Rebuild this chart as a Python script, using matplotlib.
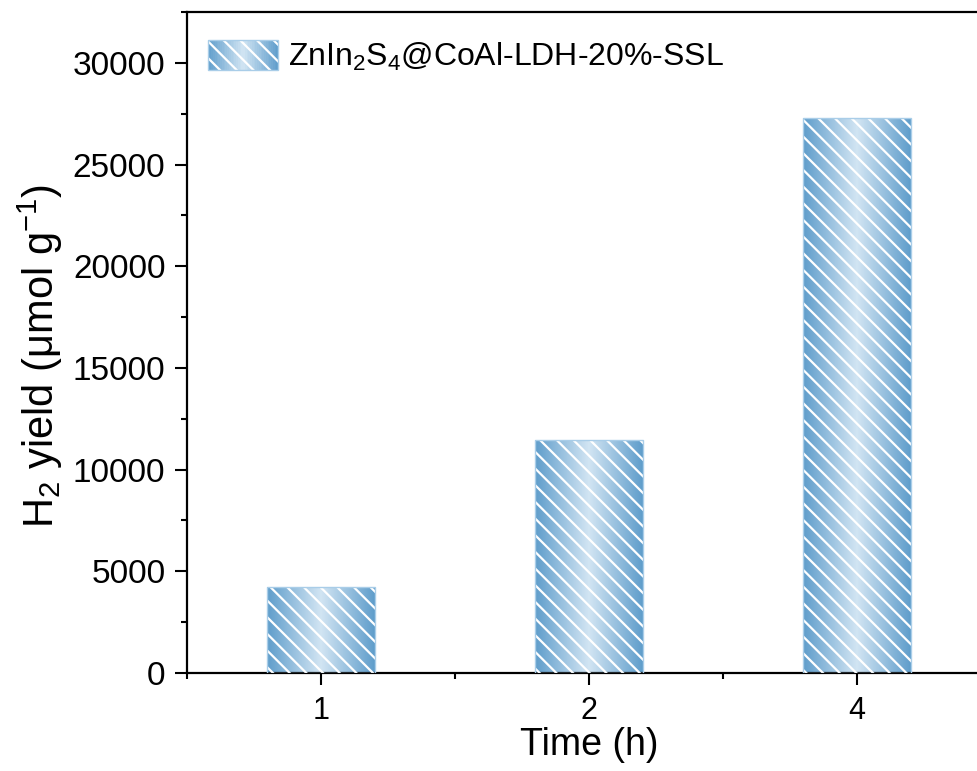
import numpy as np
import matplotlib
matplotlib.use('Agg')
import matplotlib.pyplot as plt
from matplotlib.colors import LinearSegmentedColormap
from matplotlib.patches import Rectangle
from matplotlib.legend_handler import HandlerBase
from matplotlib.ticker import MultipleLocator, FixedLocator

plt.rcParams['font.family'] = ['Liberation Sans', 'DejaVu Sans']
plt.rcParams['mathtext.fontset'] = 'custom'
plt.rcParams['mathtext.rm'] = 'Liberation Sans'
plt.rcParams['mathtext.it'] = 'Liberation Sans'
plt.rcParams['hatch.linewidth'] = 1.6

# data
times = ['1', '2', '4']
h2_yield = [4230, 11450, 27300]
series_name = r'ZnIn$_2$S$_4$@CoAl-LDH-20%-SSL'

# gradient: darker blue on the edges, light in the middle
edge_blue = '#5f9dcb'
mid_blue = '#d2e5f3'
grad_cmap = LinearSegmentedColormap.from_list('barg', [edge_blue, mid_blue, edge_blue])
border_blue = '#a9cde8'


class GradientHandler(HandlerBase):
    def create_artists(self, legend, orig_handle, xdescent, ydescent,
                       width, height, fontsize, trans):
        arts = []
        n = 40
        for i in range(n):
            c = grad_cmap((i + 0.5) / n)
            r = Rectangle((-xdescent + width * i / n, -ydescent), width / n * 1.05, height,
                          facecolor=c, edgecolor='none', transform=trans)
            arts.append(r)
        hatch = Rectangle((-xdescent, -ydescent), width, height, facecolor='none',
                          edgecolor='white', hatch='\\\\', linewidth=0, transform=trans)
        border = Rectangle((-xdescent, -ydescent), width, height, facecolor='none',
                           edgecolor=border_blue, linewidth=1, transform=trans)
        arts += [hatch, border]
        return arts


fig = plt.figure(figsize=(9.77, 7.71), dpi=100)
ax = fig.add_axes([187 / 977, 98 / 771, 804 / 977, 661 / 771])

x = np.arange(len(times))
width = 0.4
bars = ax.bar(x, h2_yield, width, color='none', edgecolor='none', zorder=2)

grad = np.linspace(0, 1, 256).reshape(1, -1)
for b in bars:
    x0, y0 = b.get_x(), b.get_y()
    w, h = b.get_width(), b.get_height()
    im = ax.imshow(grad, extent=[x0, x0 + w, y0, y0 + h], aspect='auto',
                   cmap=grad_cmap, zorder=2, interpolation='bilinear')
    im.set_clip_path(b)

ax.bar(x, h2_yield, width, color='none', edgecolor='white', hatch='\\\\',
       linewidth=0, zorder=3)
ax.bar(x, h2_yield, width, color='none', edgecolor=border_blue, linewidth=1,
       zorder=4)

ax.set_xlim(-0.5, 2.5)
ax.set_ylim(0, 32500)

ax.set_xticks(x)
ax.set_xticklabels(times)
ax.xaxis.set_minor_locator(FixedLocator([-0.5, 0.5, 1.5, 2.5]))
ax.yaxis.set_major_locator(MultipleLocator(5000))
ax.yaxis.set_minor_locator(MultipleLocator(2500))

ax.tick_params(which='major', direction='out', length=8.5, width=1.5,
               top=False, right=False)
ax.tick_params(which='minor', direction='out', length=4.5, width=1.5,
               top=False, right=False)
ax.tick_params(axis='y', labelsize=24, pad=7)
ax.tick_params(axis='x', labelsize=22, pad=8)

for s in ax.spines.values():
    s.set_linewidth(1.6)

ax.set_xlabel('Time (h)', fontsize=27, labelpad=1)
ax.set_ylabel(r'H$_2$ yield ($\mu$mol g$^{-1}$)', fontsize=30, labelpad=6)
ax.yaxis.label.set_y(0.48)

ax.legend([bars], [series_name], handler_map={type(bars): GradientHandler()},
          loc='upper left', bbox_to_anchor=(0.026, 0.957), frameon=False,
          fontsize=23, handlelength=2.2, handleheight=1.06, handletextpad=0.3,
          borderpad=0, borderaxespad=0)

fig.savefig('out.png', dpi=100)
